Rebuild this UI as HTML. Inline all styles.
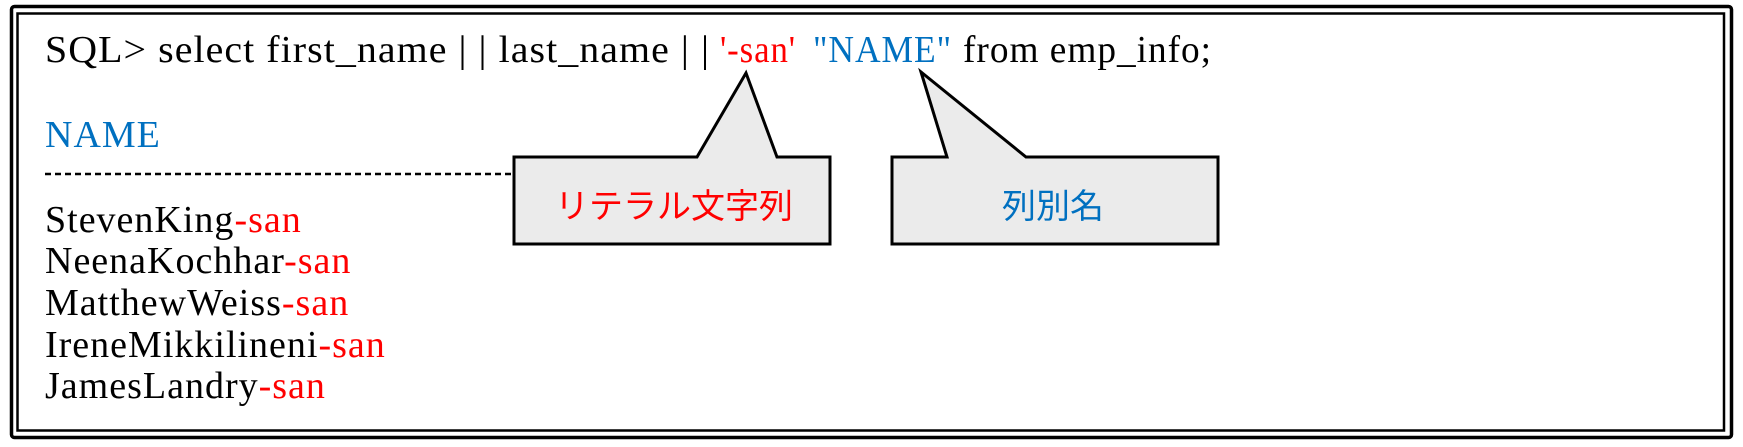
<!DOCTYPE html>
<html><head><meta charset="utf-8"><style>
html,body{margin:0;padding:0;background:#fff;width:1743px;height:447px;overflow:hidden}
svg{display:block}
.t{font-family:"Liberation Serif",serif;font-size:38px;letter-spacing:1px}
.j{font-family:"Liberation Sans","Noto Sans CJK JP",sans-serif;font-size:34px}
</style></head><body>
<svg width="1743" height="447" viewBox="0 0 1743 447" xmlns="http://www.w3.org/2000/svg">
<rect x="11.5" y="6.5" width="1720" height="431" rx="3" fill="none" stroke="#000" stroke-width="3.5"/>
<rect x="17.5" y="13.5" width="1706.5" height="417" fill="none" stroke="#000" stroke-width="2.5"/>
<text class="t" y="62"><tspan x="45" textLength="665" lengthAdjust="spacingAndGlyphs">SQL&gt; select first_name | | last_name | |</tspan><tspan x="720" fill="#ff0000" textLength="76" lengthAdjust="spacingAndGlyphs">'-san'</tspan><tspan x="813" fill="#0070c0" textLength="139" lengthAdjust="spacingAndGlyphs">"NAME"</tspan><tspan x="963" textLength="249" lengthAdjust="spacingAndGlyphs">from emp_info;</tspan></text>
<text class="t" x="45" y="147" fill="#0070c0">NAME</text>
<line x1="45" y1="174" x2="514" y2="174" stroke="#000" stroke-width="2.5" stroke-dasharray="6,4"/>
<text class="t" x="45" y="232">StevenKing<tspan fill="#ff0000">-san</tspan></text>
<text class="t" x="45" y="273">NeenaKochhar<tspan fill="#ff0000">-san</tspan></text>
<text class="t" x="45" y="315">MatthewWeiss<tspan fill="#ff0000">-san</tspan></text>
<text class="t" x="45" y="357">IreneMikkilineni<tspan fill="#ff0000">-san</tspan></text>
<text class="t" x="45" y="398">JamesLandry<tspan fill="#ff0000">-san</tspan></text>
<path d="M514 157 L697 157 L746 73 L777 157 L830 157 L830 244 L514 244 Z" fill="#ebebeb" stroke="#000" stroke-width="3" stroke-linejoin="miter"/>
<path d="M892 157 L947 157 L921 72 L1026 157 L1218 157 L1218 244 L892 244 Z" fill="#ebebeb" stroke="#000" stroke-width="3" stroke-linejoin="miter"/>
<text class="j" x="674" y="218" text-anchor="middle" fill="#ff0000">リテラル文字列</text>
<text class="j" x="1053" y="218" text-anchor="middle" fill="#0070c0">列別名</text>
</svg>
</body></html>
